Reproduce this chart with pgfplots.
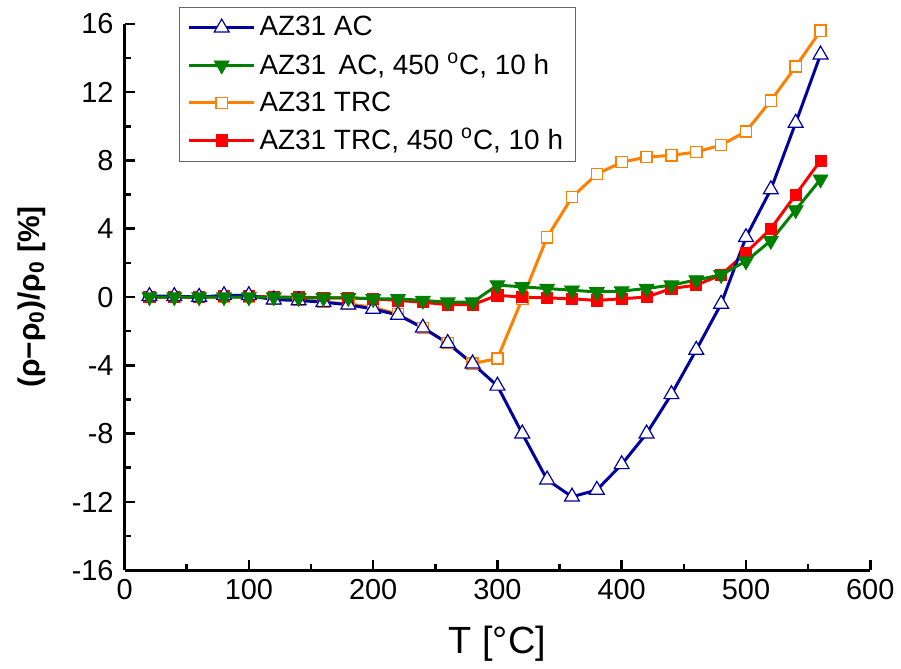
\documentclass[border=0pt]{standalone}
\usepackage{fontspec}
\setmainfont{Liberation Sans}
\usepackage{pgfplots}
\pgfplotsset{compat=1.18}
\definecolor{cblue}{RGB}{0,0,160}
\definecolor{cgreen}{RGB}{0,128,0}
\definecolor{corange}{RGB}{255,128,0}
\definecolor{cred}{RGB}{255,0,0}
\pgfplotstableread{
x y
20 0.05
40 0.05
60 0.0
80 0.1
100 0.1
120 -0.15
140 -0.2
160 -0.3
180 -0.45
200 -0.7
220 -1.05
240 -1.8
260 -2.7
280 -3.9
300 -5.2
320 -8.0
340 -10.7
360 -11.7
380 -11.3
400 -9.8
420 -8.0
440 -5.7
460 -3.1
480 -0.4
500 3.5
520 6.3
540 10.2
560 14.2
}\acdata
\pgfplotstableread{
x y
20 0.0
40 0.0
60 0.0
80 0.0
100 0.0
120 0.0
140 -0.05
160 -0.05
180 -0.05
200 -0.1
220 -0.1
240 -0.2
260 -0.3
280 -0.3
300 0.7
320 0.6
340 0.5
360 0.4
380 0.3
400 0.35
420 0.5
440 0.7
460 1.0
480 1.3
500 2.1
520 3.3
540 5.1
560 6.9
}\acht
\pgfplotstableread{
x y
20 0.0
40 0.0
60 0.0
80 0.0
100 0.0
120 -0.1
140 -0.15
160 -0.3
180 -0.4
200 -0.6
220 -1.0
240 -1.8
260 -2.7
280 -3.9
300 -3.6
320 -0.1
340 3.5
360 5.85
380 7.2
400 7.9
420 8.2
440 8.3
460 8.5
480 8.9
500 9.7
520 11.5
540 13.5
560 15.6
}\trcdata
\pgfplotstableread{
x y
20 0.0
40 0.0
60 0.0
80 0.05
100 0.05
120 0.0
140 0.0
160 -0.05
180 -0.05
200 -0.1
220 -0.2
240 -0.3
260 -0.45
280 -0.45
300 0.1
320 0.0
340 -0.05
360 -0.1
380 -0.2
400 -0.1
420 0.0
440 0.5
460 0.7
480 1.3
500 2.6
520 4.0
540 6.0
560 8.0
}\trcht
\begin{document}
\begin{tikzpicture}
\begin{axis}[
  width=374pt, height=274pt, scale only axis,
  xmin=0, xmax=600, ymin=-16, ymax=16,
  axis lines*=left,
  axis line style={line width=1.5pt},
  xtick={0,100,...,600},
  ytick={-16,-12,...,16},
  minor x tick num=1, minor y tick num=1,
  tick align=inside,
  major tick length=5pt, minor tick length=3pt,
  every tick/.style={black, line width=1.3pt},
  /pgf/number format/assume math mode=true,
  ticklabel style={font=\fontsize{14.5}{16}\selectfont},
  xticklabel style={yshift=-1pt},
  yticklabel style={xshift=-2pt},
  xlabel={T [°C]},
  xlabel style={font=\fontsize{19}{22}\selectfont, at={(axis description cs:0.5,-0.135)}, anchor=center},
  ylabel={\textbf{(ρ−ρ\textsubscript{0})/ρ\textsubscript{0} [\%]}},
  ylabel style={font=\fontsize{15}{18}\selectfont, at={(axis description cs:-0.125,0.5)}, anchor=center, rotate=0},
  legend style={at={(axis description cs:0.0735,1.031)}, anchor=north west,
    draw=black!60, line width=0.5pt, font=\fontsize{14}{16}\selectfont,
    inner xsep=4pt, inner ysep=2.5pt, row sep=3.2pt, cells={anchor=west}},
  legend cell align=left,
  legend image code/.code={\draw[#1, mark repeat=2, mark phase=2] plot coordinates {(0cm,0cm) (0.57cm,0cm) (1.14cm,0cm)};},
]
\addlegendimage{cblue, line width=1.5pt, mark=triangle*, mark size=4.3pt, mark options={fill=white, draw=cblue, line width=0.6pt}}
\addlegendentry{AZ31 AC}
\addlegendimage{cgreen, line width=1.5pt, mark=triangle*, mark size=4.3pt, mark options={rotate=180, fill=cgreen, draw=cgreen, line width=0.4pt}}
\addlegendentry{AZ31\, AC, 450 \textsuperscript{o}C, 10 h}
\addlegendimage{corange, line width=1.5pt, mark=square*, mark size=2.8pt, mark options={fill=white, draw=corange, line width=0.7pt}}
\addlegendentry{AZ31 TRC}
\addlegendimage{cred, line width=1.5pt, mark=square*, mark size=2.8pt, mark options={fill=cred, draw=cred, line width=0.4pt}}
\addlegendentry{AZ31 TRC, 450 \textsuperscript{o}C, 10 h}

\addplot[forget plot, corange, line width=1.5pt, mark=square*, mark size=2.8pt, mark options={fill=white, draw=corange, line width=0.7pt}] table[x=x,y=y] {\trcdata};
\addplot[forget plot, cred, line width=1.5pt, mark=square*, mark size=2.8pt, mark options={fill=cred, draw=cred, line width=0.4pt}] table[x=x,y=y] {\trcht};
\addplot[forget plot, cblue, line width=1.5pt, mark=triangle*, mark size=4.3pt, mark options={fill=white, draw=cblue, line width=0.6pt}] table[x=x,y=y] {\acdata};
\addplot[forget plot, cgreen, line width=1.5pt, mark=triangle*, mark size=4.3pt, mark options={rotate=180, fill=cgreen, draw=cgreen, line width=0.4pt}] table[x=x,y=y] {\acht};
\end{axis}
\path ([shift={(-62.5pt,-48pt)}]current axis.south west) ([shift={(14pt,12pt)}]current axis.north east);
\end{tikzpicture}
\end{document}
